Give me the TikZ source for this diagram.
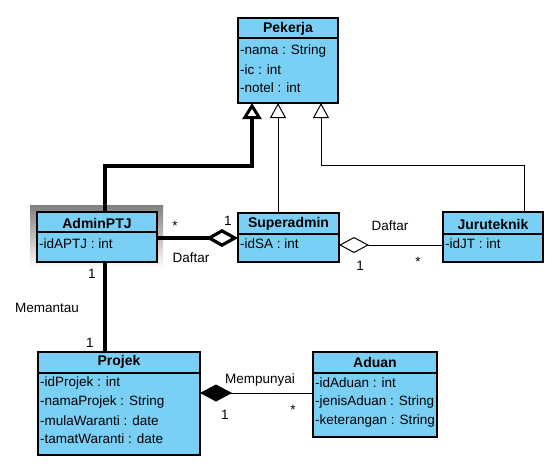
\documentclass[tikz,border=0pt]{standalone}
\usepackage{fontspec}
\setmainfont{Liberation Sans}
\usetikzlibrary{arrows.meta}
\definecolor{clsfill}{RGB}{122,207,245}
\definecolor{shade}{RGB}{200,200,200}
\tikzset{
  classbox/.style={draw=black, line width=1.2pt, fill=clsfill, anchor=north west, inner sep=0pt, outer sep=0pt},
  sep/.style={draw=black, line width=1.2pt},
  hdr/.style={font=\fontsize{14}{16}\selectfont\bfseries, inner sep=0pt},
  attr/.style={font=\fontsize{13.5}{15}\selectfont, anchor=west, inner sep=0pt},
  lbl/.style={font=\fontsize{13.5}{15}\selectfont, inner sep=0pt},
  thin/.style={line width=1pt},
  heavy/.style={line width=3.8pt},
  inh/.style={-{Triangle[open,length=15pt,width=16pt]}},
  inhthick/.style={-{Triangle[open,length=16pt,width=19pt,line width=3pt]}},
  aggthick/.style={heavy,-{Diamond[open,length=32pt,width=18pt,line width=3.2pt]}},
  aggthin/.style={thin,-{Diamond[open,length=30pt,width=16pt]}},
  comp/.style={thin,-{Diamond[length=32pt,width=17pt]}}
}
\begin{document}
\begin{tikzpicture}[x=1pt,y=-1pt]
\useasboundingbox (0,0) rectangle (556,469);
% shadow
\fill[shade] (30,205) rectangle (163,268);
% Pekerja
\node[classbox, minimum width=100pt, minimum height=85pt] (pek) at (238,18) {};
\draw[sep] (238,38) -- (338,38);
\node[hdr] (pekh) at (288,29) {Pekerja};
\node[attr] (pek1) at (240,51) {-nama : String};
\node[attr] (pek2) at (240,70) {-ic : int};
\node[attr] (pek3) at (240,88) {-notel : int};
% AdminPTJ
\node[classbox, minimum width=120pt, minimum height=50pt] (adm) at (37,212) {};
\draw[sep] (37,232) -- (157,232);
\node[hdr] (admh) at (97,223) {AdminPTJ};
\node[attr] (adm1) at (39,244) {-idAPTJ : int};
% Superadmin
\node[classbox, minimum width=101pt, minimum height=49pt] (sup) at (238,213) {};
\draw[sep] (238,234) -- (339,234);
\node[hdr] (suph) at (288.5,224) {Superadmin};
\node[attr] (sup1) at (240,244) {-idSA : int};
% Juruteknik
\node[classbox, minimum width=100pt, minimum height=50pt] (jur) at (443,212) {};
\draw[sep] (443,234) -- (543,234);
\node[hdr] (jurh) at (493,224) {Juruteknik};
\node[attr] (jur1) at (445,244) {-idJT : int};
% Projek
\node[classbox, minimum width=162pt, minimum height=103pt] (proj) at (38,352) {};
\draw[sep] (38,373) -- (200,373);
\node[hdr] (projh) at (119,362) {Projek};
\node[attr] (proj1) at (40,383) {-idProjek : int};
\node[attr] (proj2) at (40,402) {-namaProjek : String};
\node[attr] (proj3) at (40,421) {-mulaWaranti : date};
\node[attr] (proj4) at (40,439) {-tamatWaranti : date};
% Aduan
\node[classbox, minimum width=124pt, minimum height=85pt] (adu) at (313,352) {};
\draw[sep] (313,373) -- (437,373);
\node[hdr] (aduh) at (375,362) {Aduan};
\node[attr] (adu1) at (315,383) {-idAduan : int};
\node[attr] (adu2) at (315,402) {-jenisAduan : String};
\node[attr] (adu3) at (315,421) {-keterangan : String};
% generalisations
\draw[heavy, inhthick] (105,0 |- adm.north) |- (252,166) -- (252,0 |- pek.south);
\draw[thin, inh] (278,0 |- sup.north) -- (278,0 |- pek.south);
\draw[thin, inh] (524,0 |- jur.north) |- (321,165) -- (321,0 |- pek.south);
% associations
\draw[aggthick] (157,238) -- (238,238);
\node[lbl] (m1) at (175,226) {*};
\node[lbl] (m2) at (228,221) {1};
\node[lbl] (d1) at (191,258) {Daftar};
\draw[aggthin] (jur.west |- 0,245) -- (sup.east |- 0,245);
\node[lbl] (d2) at (390,226) {Daftar};
\node[lbl] (m3) at (360,266) {1};
\node[lbl] (m4) at (418,262) {*};
\draw[heavy] (105,0 |- adm.south) -- (105,0 |- proj.north);
\node[lbl] (m5) at (92,274) {1};
\node[lbl] (mem) at (47,308) {Memantau};
\node[lbl] (m6) at (90,343) {1};
\draw[comp] (adu.west |- 0,393) -- (proj.east |- 0,393);
\node[lbl] (mp) at (260,380) {Mempunyai};
\node[lbl] (m7) at (225,415) {1};
\node[lbl] (m8) at (293,410) {*};
\end{tikzpicture}
\end{document}
